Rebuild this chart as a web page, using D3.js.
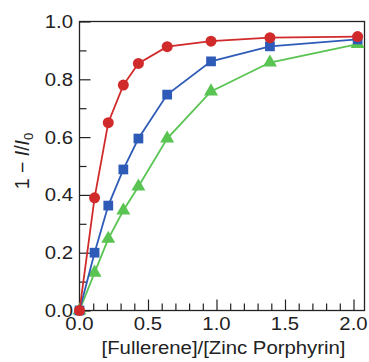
<!DOCTYPE html>
<html><head><meta charset="utf-8">
<script src="https://cdn.jsdelivr.net/npm/d3@7"></script>
<style>body{margin:0;background:#fff}svg{display:block}</style>
</head><body><svg id="c" width="369" height="362"></svg>
<script>
const xVals = [0, 0.11, 0.21, 0.32, 0.43, 0.64, 0.96, 1.39, 2.03];
const redVals = [0, 0.39, 0.65, 0.78, 0.855, 0.913, 0.932, 0.944, 0.948];
const blueVals = [0, 0.20, 0.363, 0.488, 0.595, 0.747, 0.862, 0.914, 0.938];
const greenVals = [0, 0.131, 0.248, 0.346, 0.429, 0.595, 0.758, 0.858, 0.922];
const xTicks = [0, 0.5, 1.0, 1.5, 2.0];
const yTicks = [0, 0.2, 0.4, 0.6, 0.8, 1.0];

const svg = d3.select("#c");
const x = d3.scaleLinear().domain([0, 2.0]).range([79.5, 353.5]);
const y = d3.scaleLinear().domain([0, 1]).range([310.5, 21.5]);
const xRight = 364.5;
const font = "Liberation Sans, Arial, sans-serif";
const SX = 1.13;

// frame
svg.append("rect").attr("x", x(0)).attr("y", y(1)).attr("width", xRight - x(0)).attr("height", y(0) - y(1))
  .attr("fill", "none").attr("stroke", "#222").attr("stroke-width", 1.3);

// x axis ticks (inside)
const gx = svg.append("g").attr("transform", `translate(0,${y(0)})`);
gx.call(d3.axisBottom(x).tickValues(d3.range(0, 21).map(d => d / 10)).tickSize(-7).tickFormat(""))
  .call(g => g.select(".domain").remove());
gx.selectAll(".tick line").attr("stroke", "#222").attr("stroke-width", 1.2)
  .attr("y2", (d) => (Math.abs(d * 2 - Math.round(d * 2)) < 1e-6 ? -11 : -7));
svg.append("g").selectAll("text").data(xTicks).join("text")
  .attr("transform", d => `translate(${x(d)},330) scale(${SX},1)`).attr("text-anchor", "middle")
  .attr("font-family", font).attr("font-size", 18).attr("fill", "#222")
  .text(d => d.toFixed(1));

// y axis ticks (inside)
const gy = svg.append("g").attr("transform", `translate(${x(0)},0)`);
gy.call(d3.axisLeft(y).tickValues(d3.range(0, 11).map(d => d / 10)).tickSize(-7).tickFormat(""))
  .call(g => g.select(".domain").remove());
gy.selectAll(".tick line").attr("stroke", "#222").attr("stroke-width", 1.2)
  .attr("x2", (d) => (Math.abs(d * 5 - Math.round(d * 5)) < 1e-6 ? 11 : 7));
svg.append("g").selectAll("text").data(yTicks).join("text")
  .attr("transform", d => `translate(73,${y(d) + 6.5}) scale(${SX},1)`).attr("text-anchor", "end")
  .attr("font-family", font).attr("font-size", 18).attr("fill", "#222")
  .text(d => d.toFixed(1));

// axis titles
svg.append("text").attr("transform", `translate(${(102 + 345) / 2},354) scale(${SX},1)`).attr("text-anchor", "middle")
  .attr("font-family", font).attr("font-size", 18).attr("fill", "#222")
  .text("[Fullerene]/[Zinc Porphyrin]");
const yt = svg.append("text").attr("transform", `translate(29,161) rotate(-90)`)
  .attr("text-anchor", "middle").attr("font-family", font).attr("font-size", 19.5).attr("fill", "#222");
yt.append("tspan").text("1 \u2212 ");
yt.append("tspan").attr("font-style", "italic").text("I");
yt.append("tspan").text("/");
yt.append("tspan").attr("font-style", "italic").text("I");
yt.append("tspan").attr("font-size", 13).attr("dy", 4).text("0");

const series = [
  {vals: greenVals, color: "#5ac452", shape: d3.symbolTriangle, size: 85},
  {vals: blueVals, color: "#2f5bb8", shape: d3.symbolSquare, size: 95},
  {vals: redVals, color: "#d12a2a", shape: d3.symbolCircle, size: 95}
];
const line = d3.line().x((d, i) => x(xVals[i])).y(d => y(d));
series.forEach(s => {
  const g = svg.append("g");
  g.append("path").datum(s.vals).attr("d", line).attr("fill", "none")
    .attr("stroke", s.color).attr("stroke-width", 1.8);
  g.selectAll("path.m").data(s.vals).join("path").attr("class", "m")
    .attr("transform", (d, i) => `translate(${x(xVals[i])},${y(d)})`)
    .attr("d", d3.symbol().type(s.shape).size(s.size)).attr("fill", s.color);
});
</script></body></html>
